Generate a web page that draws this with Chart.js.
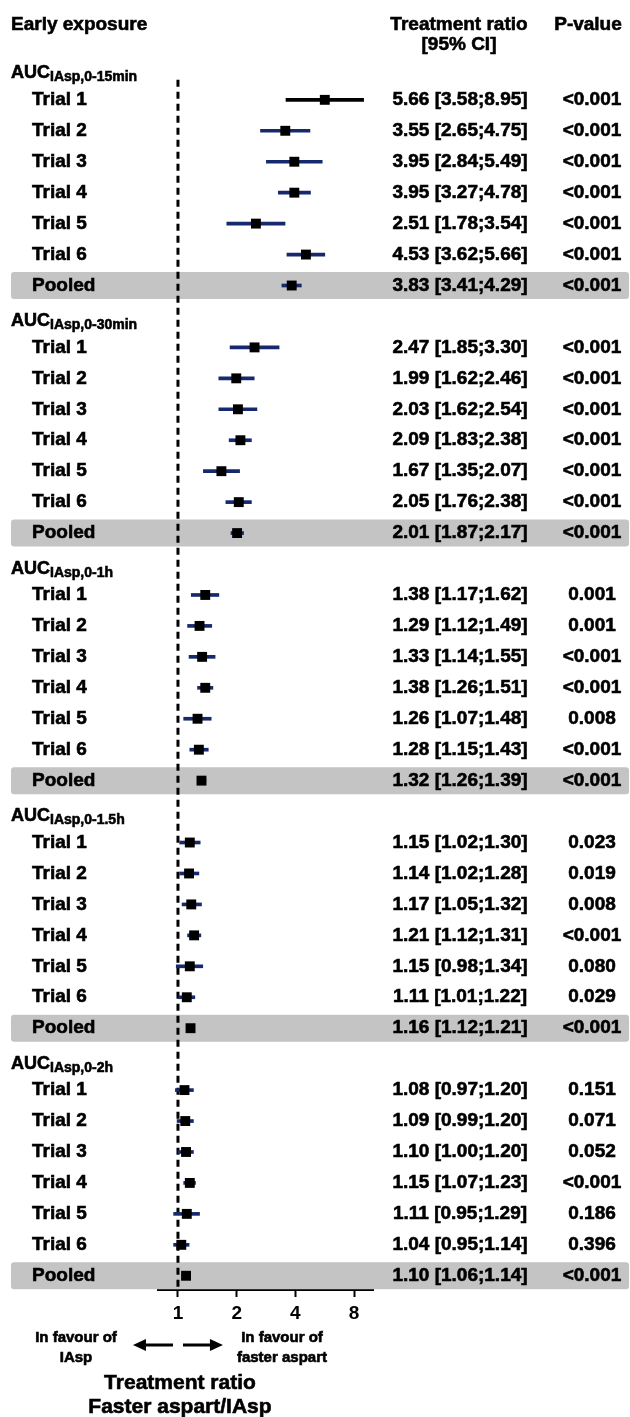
<!DOCTYPE html>
<html>
<head>
<meta charset="utf-8">
<title>Early exposure - treatment ratio forest plot</title>
<script src="https://cdn.jsdelivr.net/npm/chart.js@4.4.1/dist/chart.umd.min.js"></script>
<style>
  body { margin: 0; background: #fff; }
  canvas { display: block; }
</style>
</head>
<body>
<canvas id="forestChart" width="630" height="1417"></canvas>
<script>
"use strict";

// AUC windows, one block of rows each
const windows = ["0-15min", "0-30min", "0-1h", "0-1.5h", "0-2h"];
const rowNames = ["Trial 1", "Trial 2", "Trial 3", "Trial 4", "Trial 5", "Trial 6", "Pooled"];

// treatment ratio Faster aspart/IAsp with 95% CI
const ratio = [
    [5.66, 3.55, 3.95, 3.95, 2.51, 4.53, 3.83],
    [2.47, 1.99, 2.03, 2.09, 1.67, 2.05, 2.01],
    [1.38, 1.29, 1.33, 1.38, 1.26, 1.28, 1.32],
    [1.15, 1.14, 1.17, 1.21, 1.15, 1.11, 1.16],
    [1.08, 1.09, 1.10, 1.15, 1.11, 1.04, 1.10]
];
const lower = [
    [3.58, 2.65, 2.84, 3.27, 1.78, 3.62, 3.41],
    [1.85, 1.62, 1.62, 1.83, 1.35, 1.76, 1.87],
    [1.17, 1.12, 1.14, 1.26, 1.07, 1.15, 1.26],
    [1.02, 1.02, 1.05, 1.12, 0.98, 1.01, 1.12],
    [0.97, 0.99, 1.00, 1.07, 0.95, 0.95, 1.06]
];
const upper = [
    [8.95, 4.75, 5.49, 4.78, 3.54, 5.66, 4.29],
    [3.30, 2.46, 2.54, 2.38, 2.07, 2.38, 2.17],
    [1.62, 1.49, 1.55, 1.51, 1.48, 1.43, 1.39],
    [1.30, 1.28, 1.32, 1.31, 1.34, 1.22, 1.21],
    [1.20, 1.20, 1.20, 1.23, 1.29, 1.14, 1.14]
];
const pValues = [
    ["<0.001", "<0.001", "<0.001", "<0.001", "<0.001", "<0.001", "<0.001"],
    ["<0.001", "<0.001", "<0.001", "<0.001", "<0.001", "<0.001", "<0.001"],
    ["0.001", "0.001", "<0.001", "<0.001", "0.008", "<0.001", "<0.001"],
    ["0.023", "0.019", "0.008", "<0.001", "0.080", "0.029", "<0.001"],
    ["0.151", "0.071", "0.052", "<0.001", "0.186", "0.396", "<0.001"]
];

const xTicks = [1, 2, 4, 8];

const font = "'Liberation Sans', Arial, Helvetica, sans-serif";
const navy = "#15296c";
const bandGrey = "#c4c4c4";

// header row + trials + pooled
const rowsPerBlock = rowNames.length + 1;

const ciData = [];
const estData = [];
const ciColors = [];
windows.forEach((w, b) => {
    ratio[b].forEach((r, i) => {
        const row = b * rowsPerBlock + i + 1;
        ciData.push({ y: row, x: [lower[b][i], upper[b][i]] });
        estData.push({ x: r, y: row });
        ciColors.push(b === 0 && i === 0 ? "#000" : navy);
    });
});

// bold text with a thin stroke, the original type is heavier than Liberation bold
function drawText(ctx, s, x, y, size, align, baseline) {
    ctx.font = "bold " + size + "px " + font;
    ctx.textAlign = align || "left";
    ctx.textBaseline = baseline || "middle";
    ctx.lineWidth = 0.6;
    ctx.fillText(s, x, y);
    ctx.strokeText(s, x, y);
}

function arrow(ctx, xFrom, xTo, y) {
    const dir = Math.sign(xTo - xFrom);
    ctx.lineWidth = 3;
    ctx.beginPath();
    ctx.moveTo(xFrom, y);
    ctx.lineTo(xTo - dir * 10, y);
    ctx.stroke();
    ctx.beginPath();
    ctx.moveTo(xTo, y);
    ctx.lineTo(xTo - dir * 13, y - 6);
    ctx.lineTo(xTo - dir * 13, y + 6);
    ctx.closePath();
    ctx.fill();
}

const forestDecor = {
    id: "forestDecor",
    beforeDatasetsDraw(chart) {
        const ctx = chart.ctx;
        const xs = chart.scales.x, ys = chart.scales.y;
        ctx.save();
        // grey band behind the pooled rows
        ctx.fillStyle = bandGrey;
        windows.forEach((w, b) => {
            const y = ys.getPixelForValue(b * rowsPerBlock + rowNames.length);
            ctx.beginPath();
            if (ctx.roundRect) ctx.roundRect(11, y - 13.5, 618, 27, 3);
            else ctx.rect(11, y - 13.5, 618, 27);
            ctx.fill();
        });
        // no-difference line at ratio 1
        const x1 = xs.getPixelForValue(1);
        ctx.strokeStyle = "#000";
        ctx.lineWidth = 3;
        ctx.setLineDash([7, 5]);
        ctx.beginPath();
        ctx.moveTo(x1, ys.getPixelForValue(0.35));
        ctx.lineTo(x1, chart.chartArea.bottom);
        ctx.stroke();
        ctx.restore();
    },
    afterDraw(chart) {
        const ctx = chart.ctx;
        const xs = chart.scales.x, ys = chart.scales.y;
        ctx.save();
        ctx.fillStyle = "#000";
        ctx.strokeStyle = "#000";

        drawText(ctx, "Early exposure", 11, 25, 19);
        drawText(ctx, "Treatment ratio", 459, 25, 19, "center");
        drawText(ctx, "[95% CI]", 459, 45, 19, "center");
        drawText(ctx, "P-value", 588, 25, 19, "center");

        windows.forEach((w, b) => {
            const yHead = ys.getPixelForValue(b * rowsPerBlock);
            drawText(ctx, "AUC", 11, yHead + 9.5, 18, "left", "alphabetic");
            const auW = ctx.measureText("AUC").width;
            drawText(ctx, "IAsp," + w, 11 + auW, yHead + 12.5, 14, "left", "alphabetic");

            rowNames.forEach((name, i) => {
                const y = ys.getPixelForValue(b * rowsPerBlock + i + 1);
                drawText(ctx, name, 32, y, 19);
                const ci = ratio[b][i].toFixed(2) + " [" + lower[b][i].toFixed(2) + ";" + upper[b][i].toFixed(2) + "]";
                drawText(ctx, ci, 460, y, 19, "center");
                drawText(ctx, pValues[b][i], 592, y, 19, "center");
            });
        });

        // direction of effect
        const x1 = xs.getPixelForValue(1);
        drawText(ctx, "In favour of", x1 - 102, 1338, 15, "center");
        drawText(ctx, "IAsp", x1 - 102, 1358, 15, "center");
        drawText(ctx, "In favour of", x1 + 104, 1338, 15, "center");
        drawText(ctx, "faster aspart", x1 + 104, 1358, 15, "center");
        arrow(ctx, x1 - 5, x1 - 45, 1345);
        arrow(ctx, x1 + 5, x1 + 45, 1345);

        drawText(ctx, "Treatment ratio", x1 + 2, 1383, 21, "center");
        drawText(ctx, "Faster aspart/IAsp", x1 + 2, 1407, 21, "center");
        ctx.restore();
    }
};

const ctx = document.getElementById("forestChart").getContext("2d");
new Chart(ctx, {
    type: "bar",
    data: {
        datasets: [
            {
                type: "scatter",
                data: estData,
                pointStyle: "rect",
                pointRadius: 7,
                pointHoverRadius: 7,
                backgroundColor: "#000",
                borderColor: "#000",
                borderWidth: 0,
                order: 0
            },
            {
                type: "bar",
                indexAxis: "y",
                data: ciData,
                backgroundColor: ciColors,
                barThickness: 3,
                order: 1
            }
        ]
    },
    plugins: [forestDecor],
    options: {
        responsive: false,
        animation: false,
        events: [],
        layout: { padding: { top: 6, left: 158, right: 257, bottom: 87 } },
        plugins: {
            legend: { display: false },
            tooltip: { enabled: false }
        },
        scales: {
            x: {
                type: "logarithmic",
                min: 0.79,
                max: 10,
                offset: false,
                beginAtZero: false,
                afterBuildTicks: (scale) => { scale.ticks = xTicks.map(v => ({ value: v })); },
                afterFit: (scale) => { scale.height = 40; },
                grid: { display: true, offset: false, drawOnChartArea: false, tickLength: 7, tickWidth: 2, tickColor: "#000" },
                border: { display: true, color: "#000", width: 2 },
                ticks: {
                    color: "#000",
                    padding: 5,
                    autoSkip: false,
                    maxRotation: 0,
                    font: { family: font, size: 19, weight: "bold" },
                    callback: (v) => String(v)
                }
            },
            y: {
                type: "linear",
                reverse: true,
                min: -2,
                max: 39.46,
                offset: false,
                display: false
            }
        }
    }
});
</script>
</body>
</html>
